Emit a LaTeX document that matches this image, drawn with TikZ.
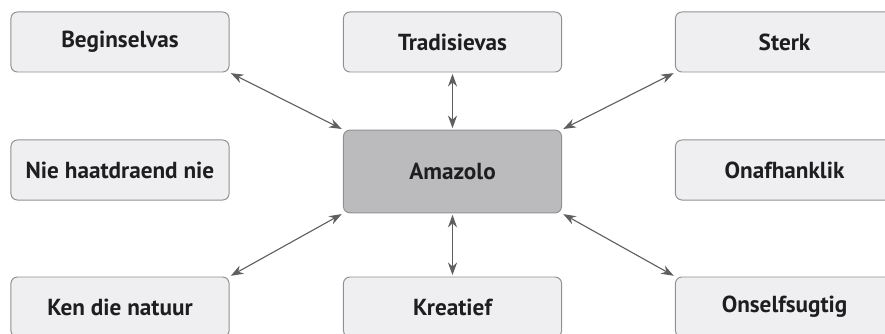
\documentclass[tikz,border=0pt]{standalone}
\usepackage{fontspec}
\setmainfont{PT Sans}
\usetikzlibrary{arrows.meta}
\definecolor{boxfill}{RGB}{239,239,241}
\definecolor{boxline}{RGB}{145,145,148}
\definecolor{corefill}{RGB}{187,187,190}
\definecolor{linkgray}{RGB}{95,95,97}
\definecolor{inkdark}{RGB}{30,30,32}

\begin{document}
\begin{tikzpicture}[x=0.025cm,y=-0.025cm,
    trait/.style={draw=boxline, fill=boxfill, line width=0.7pt, rounded corners=0.16cm,
        minimum width=5.45cm, minimum height=1.5cm, text=inkdark,
        font=\fontsize{16.5}{19}\selectfont\bfseries},
    core/.style={trait, fill=corefill, minimum height=2.07cm},
    link/.style={{Stealth[length=9pt,width=6.5pt]}-{Stealth[length=9pt,width=6.5pt]},
        draw=linkgray, line width=0.8pt, shorten <=1pt, shorten >=1pt}]
    \useasboundingbox (0,0) rectangle (885,334);
    % centre
    \node[core] (amazolo) at (452.5,171.5) {Amazolo};
    % left column
    \node[trait] (beginsel) at (120,42) {Beginselvas};
    \node[trait] (haat)     at (120,170) {Nie haatdraend nie};
    \node[trait] (natuur)   at (120,307) {Ken die natuur};
    % middle column
    \node[trait] (tradisie) at (452.5,42) {Tradisievas};
    \node[trait] (kreatief) at (452.5,307) {Kreatief};
    % right column
    \node[trait] (sterk)    at (784.5,42) {Sterk};
    \node[trait] (onafh)    at (784.5,170) {Onafhanklik};
    \node[trait] (onself)   at (784.5,307) {Onselfsugtig};
    % links
    \draw[link] (amazolo.north west) -- (beginsel.south east);
    \draw[link] (amazolo.north) -- (tradisie.south);
    \draw[link] (amazolo.north east) -- (sterk.south west);
    \draw[link] (amazolo.south west) -- (natuur.north east);
    \draw[link] (amazolo.south) -- (kreatief.north);
    \draw[link] (amazolo.south east) -- (onself.north west);
\end{tikzpicture}
\end{document}
